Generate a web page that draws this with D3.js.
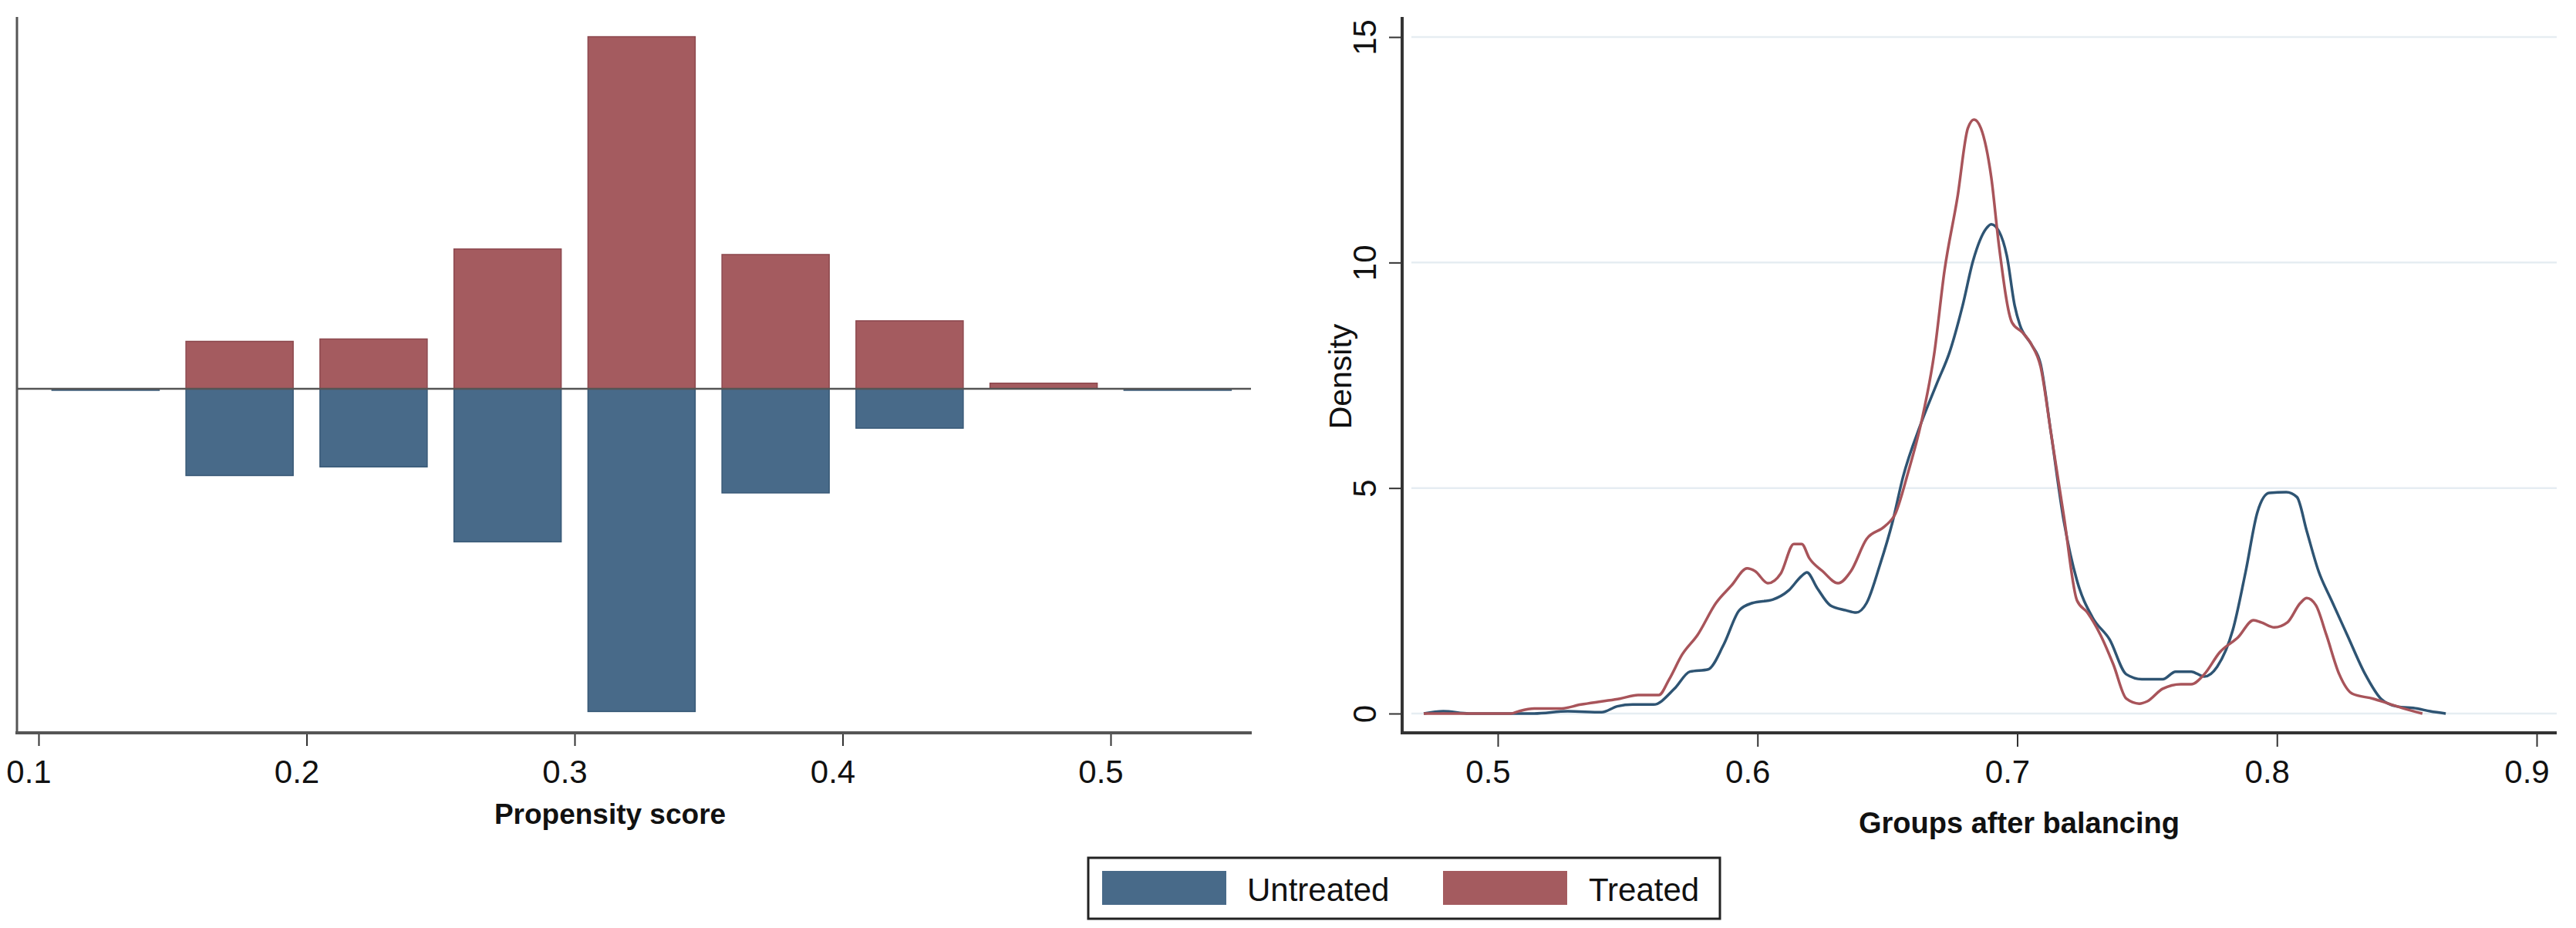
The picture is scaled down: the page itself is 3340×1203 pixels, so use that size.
<!DOCTYPE html>
<html>
<head>
<meta charset="utf-8">
<script src="https://cdn.jsdelivr.net/npm/d3@7"></script>
<style>
  body { margin: 0; background: #fff; }
  text { font-family: "Liberation Sans", Arial, sans-serif; fill: #111; }
</style>
</head>
<body>
<div id="chart"></div>
<script>
// Data ----------------------------------------------
// left: mirrored histogram of propensity scores (share of each group per bin)
const binCenters = [0.125, 0.175, 0.225, 0.275, 0.325, 0.375, 0.425, 0.475, 0.525];
const binWidth = 0.04;
const treatedShare = [0, 0.060, 0.063, 0.177, 0.446, 0.170, 0.086, 0.007, 0];
const untreatedShare = [0.002, 0.110, 0.099, 0.194, 0.409, 0.132, 0.050, 0, 0.002];
const leftTicks = [0.1, 0.2, 0.3, 0.4, 0.5];

// right: kernel densities after balancing
const untreatedX = [0.4715, 0.479, 0.489, 0.5016, 0.514, 0.527, 0.54, 0.546, 0.552, 0.56, 0.568, 0.574, 0.581, 0.587, 0.593, 0.598, 0.606, 0.612, 0.617, 0.619, 0.623, 0.628, 0.634, 0.638, 0.642, 0.647, 0.652, 0.656, 0.663, 0.669, 0.674, 0.679, 0.683, 0.688, 0.690, 0.693, 0.696, 0.699, 0.701, 0.7055, 0.709, 0.713, 0.718, 0.723, 0.729, 0.7356, 0.742, 0.748, 0.756, 0.761, 0.767, 0.772, 0.777, 0.783, 0.788, 0.7925, 0.797, 0.8036, 0.8077, 0.8115, 0.816, 0.821, 0.827, 0.834, 0.840, 0.846, 0.854, 0.859, 0.865];
const untreatedY = [0, 0.05, 0, 0, 0, 0.05, 0.03, 0.16, 0.2, 0.2, 0.55, 0.93, 0.98, 1.53, 2.29, 2.45, 2.53, 2.73, 3.05, 3.13, 2.78, 2.4, 2.29, 2.24, 2.45, 3.27, 4.25, 5.24, 6.44, 7.31, 8.02, 9.05, 10.04, 10.75, 10.85, 10.69, 10.15, 9.05, 8.62, 8.18, 7.75, 6.22, 4.25, 2.95, 2.13, 1.64, 0.87, 0.76, 0.76, 0.93, 0.93, 0.82, 1.04, 1.85, 3.16, 4.47, 4.89, 4.91, 4.8, 4.04, 3.16, 2.51, 1.75, 0.87, 0.33, 0.16, 0.11, 0.05, 0];
const treatedX = [0.4715, 0.505, 0.508, 0.514, 0.524, 0.532, 0.54, 0.547, 0.554, 0.562, 0.566, 0.571, 0.577, 0.584, 0.590, 0.596, 0.599, 0.604, 0.609, 0.614, 0.617, 0.620, 0.625, 0.631, 0.636, 0.642, 0.649, 0.653, 0.658, 0.663, 0.668, 0.672, 0.677, 0.681, 0.6834, 0.686, 0.69, 0.693, 0.698, 0.702, 0.7055, 0.709, 0.713, 0.718, 0.723, 0.727, 0.732, 0.737, 0.742, 0.747, 0.750, 0.756, 0.763, 0.767, 0.772, 0.778, 0.785, 0.791, 0.794, 0.799, 0.804, 0.809, 0.8115, 0.815, 0.819, 0.824, 0.829, 0.837, 0.843, 0.849, 0.856];
const treatedY = [0, 0, 0.05, 0.11, 0.11, 0.2, 0.27, 0.33, 0.41, 0.41, 0.76, 1.31, 1.75, 2.45, 2.84, 3.22, 3.16, 2.89, 3.11, 3.76, 3.76, 3.44, 3.16, 2.89, 3.16, 3.87, 4.15, 4.42, 5.35, 6.44, 7.96, 9.82, 11.45, 12.98, 13.17, 12.98, 11.89, 10.36, 8.67, 8.45, 8.18, 7.69, 6.22, 4.36, 2.51, 2.24, 1.75, 1.09, 0.33, 0.22, 0.27, 0.55, 0.65, 0.65, 0.87, 1.36, 1.69, 2.07, 2.02, 1.91, 2.02, 2.45, 2.56, 2.4, 1.75, 0.87, 0.44, 0.33, 0.22, 0.11, 0];
const rightXTicks = [0.5, 0.6, 0.7, 0.8, 0.9];
const rightYTicks = [0, 5, 10, 15];

const legendLabels = ["Untreated", "Treated"];

// Constants ----------------------------------------------
const width = 3340;
const height = 1203;
const blueFill = "rgb(72, 106, 137)";
const redFill = "rgb(164, 91, 95)";
const blueLine = "rgb(46, 84, 115)";
const redLine = "rgb(168, 84, 90)";
const axisColor = "#555";
const tickFont = "42px";

const svg = d3.select("#chart").append("svg")
  .attr("width", width)
  .attr("height", height);

// Left panel ----------------------------------------------
const xLeft = d3.scaleLinear().domain([0.1, 0.5]).range([50, 1440]);
const yLeft = d3.scaleLinear().domain([-0.436, 0.471]).range([950, 22]);

const left = svg.append("g");

left.append("g")
  .selectAll("rect")
  .data(binCenters.map((c, i) => ({c, v: treatedShare[i]})))
  .enter()
  .append("rect")
  .attr("x", d => xLeft(d.c - binWidth / 2))
  .attr("width", d => xLeft(d.c + binWidth / 2) - xLeft(d.c - binWidth / 2))
  .attr("y", d => yLeft(d.v))
  .attr("height", d => yLeft(0) - yLeft(d.v))
  .attr("fill", redFill)
  .attr("stroke", "rgb(140, 72, 78)")
  .attr("stroke-width", 1.5);

left.append("g")
  .selectAll("rect")
  .data(binCenters.map((c, i) => ({c, v: untreatedShare[i]})))
  .enter()
  .append("rect")
  .attr("x", d => xLeft(d.c - binWidth / 2))
  .attr("width", d => xLeft(d.c + binWidth / 2) - xLeft(d.c - binWidth / 2))
  .attr("y", yLeft(0))
  .attr("height", d => yLeft(-d.v) - yLeft(0))
  .attr("fill", blueFill)
  .attr("stroke", "rgb(55, 88, 118)")
  .attr("stroke-width", 1.5);

// zero line
left.append("line")
  .attr("x1", 21).attr("x2", 1622)
  .attr("y1", yLeft(0)).attr("y2", yLeft(0))
  .attr("stroke", "#555").attr("stroke-width", 2.5);

// axes lines
left.append("line")
  .attr("x1", 22).attr("x2", 22).attr("y1", 22).attr("y2", 951)
  .attr("stroke", axisColor).attr("stroke-width", 3);

const leftAxis = left.append("g")
  .attr("transform", "translate(0,950)")
  .call(d3.axisBottom(xLeft).tickValues(leftTicks).tickFormat(d3.format(".1f"))
    .tickSize(17).tickSizeOuter(0));
leftAxis.select(".domain").remove();
leftAxis.selectAll("line").attr("stroke", "#333").attr("stroke-width", 2);
leftAxis.selectAll("text")
  .attr("y", 65).attr("dy", null).attr("dx", -13)
  .style("font-size", tickFont).attr("fill", "#111");

left.append("line")
  .attr("x1", 20).attr("x2", 1623).attr("y1", 950).attr("y2", 950)
  .attr("stroke", axisColor).attr("stroke-width", 4);

left.append("text")
  .attr("x", 791).attr("y", 1068)
  .attr("text-anchor", "middle")
  .style("font-weight", "bold")
  .style("font-size", "37px")
  .text("Propensity score");

// Right panel ----------------------------------------------
const xRight = d3.scaleLinear().domain([0.5, 0.9]).range([1942, 3289]);
const yRight = d3.scaleLinear().domain([0, 15]).range([925, 48]);

const right = svg.append("g");

right.append("g")
  .selectAll("line")
  .data(rightYTicks)
  .enter()
  .append("line")
  .attr("x1", 1830).attr("x2", 3315)
  .attr("y1", d => yRight(d)).attr("y2", d => yRight(d))
  .attr("stroke", "#e6edf2").attr("stroke-width", 2.5);

const line = d3.line()
  .x(d => xRight(d[0]))
  .y(d => yRight(d[1]))
  .curve(d3.curveMonotoneX);

right.append("path")
  .datum(untreatedX.map((x, i) => [x, untreatedY[i]]))
  .attr("d", line)
  .attr("fill", "none")
  .attr("stroke", blueLine)
  .attr("stroke-width", 3.5);

right.append("path")
  .datum(treatedX.map((x, i) => [x, treatedY[i]]))
  .attr("d", line)
  .attr("fill", "none")
  .attr("stroke", redLine)
  .attr("stroke-width", 3.5);

const rightXAxis = right.append("g")
  .attr("transform", "translate(0,950)")
  .call(d3.axisBottom(xRight).tickValues(rightXTicks).tickFormat(d3.format(".1f"))
    .tickSize(18).tickSizeOuter(0));
rightXAxis.select(".domain").remove();
rightXAxis.selectAll("line").attr("stroke", "#333").attr("stroke-width", 2);
rightXAxis.selectAll("text")
  .attr("y", 65).attr("dy", null).attr("dx", -13)
  .style("font-size", tickFont).attr("fill", "#111");

const rightYAxis = right.append("g")
  .attr("transform", "translate(1818,0)")
  .call(d3.axisLeft(yRight).tickValues(rightYTicks).tickSize(17).tickSizeOuter(0));
rightYAxis.select(".domain").remove();
rightYAxis.selectAll("line").attr("stroke", "#333").attr("stroke-width", 2);
rightYAxis.selectAll("text")
  .attr("x", null).attr("dy", null)
  .attr("transform", "translate(-49,0) rotate(-90)")
  .attr("text-anchor", "middle")
  .attr("dominant-baseline", "central")
  .style("font-size", tickFont)
  .attr("fill", "#111");

right.append("line")
  .attr("x1", 1818).attr("x2", 1818).attr("y1", 22).attr("y2", 952)
  .attr("stroke", "#333").attr("stroke-width", 4);
right.append("line")
  .attr("x1", 1816).attr("x2", 3315).attr("y1", 950).attr("y2", 950)
  .attr("stroke", "#333").attr("stroke-width", 4);

right.append("text")
  .attr("transform", "translate(1738,488) rotate(-90)")
  .attr("text-anchor", "middle")
  .attr("dominant-baseline", "central")
  .style("font-size", "41px")
  .text("Density");

right.append("text")
  .attr("x", 2618).attr("y", 1080)
  .attr("text-anchor", "middle")
  .style("font-weight", "bold")
  .style("font-size", "38px")
  .text("Groups after balancing");

// Legend ----------------------------------------------
const legend = svg.append("g");
legend.append("rect")
  .attr("x", 1411).attr("y", 1112)
  .attr("width", 819).attr("height", 79)
  .attr("fill", "#fff")
  .attr("stroke", "#222").attr("stroke-width", 3);

const legendItems = [
  {label: legendLabels[0], color: blueFill, sx: 1429, tx: 1617},
  {label: legendLabels[1], color: redFill, sx: 1871, tx: 2060}
];

legendItems.forEach(item => {
  legend.append("rect")
    .attr("x", item.sx).attr("y", 1129)
    .attr("width", 161).attr("height", 44)
    .attr("fill", item.color);
  legend.append("text")
    .attr("x", item.tx).attr("y", 1168)
    .style("font-size", "42px")
    .text(item.label);
});
</script>
</body>
</html>
